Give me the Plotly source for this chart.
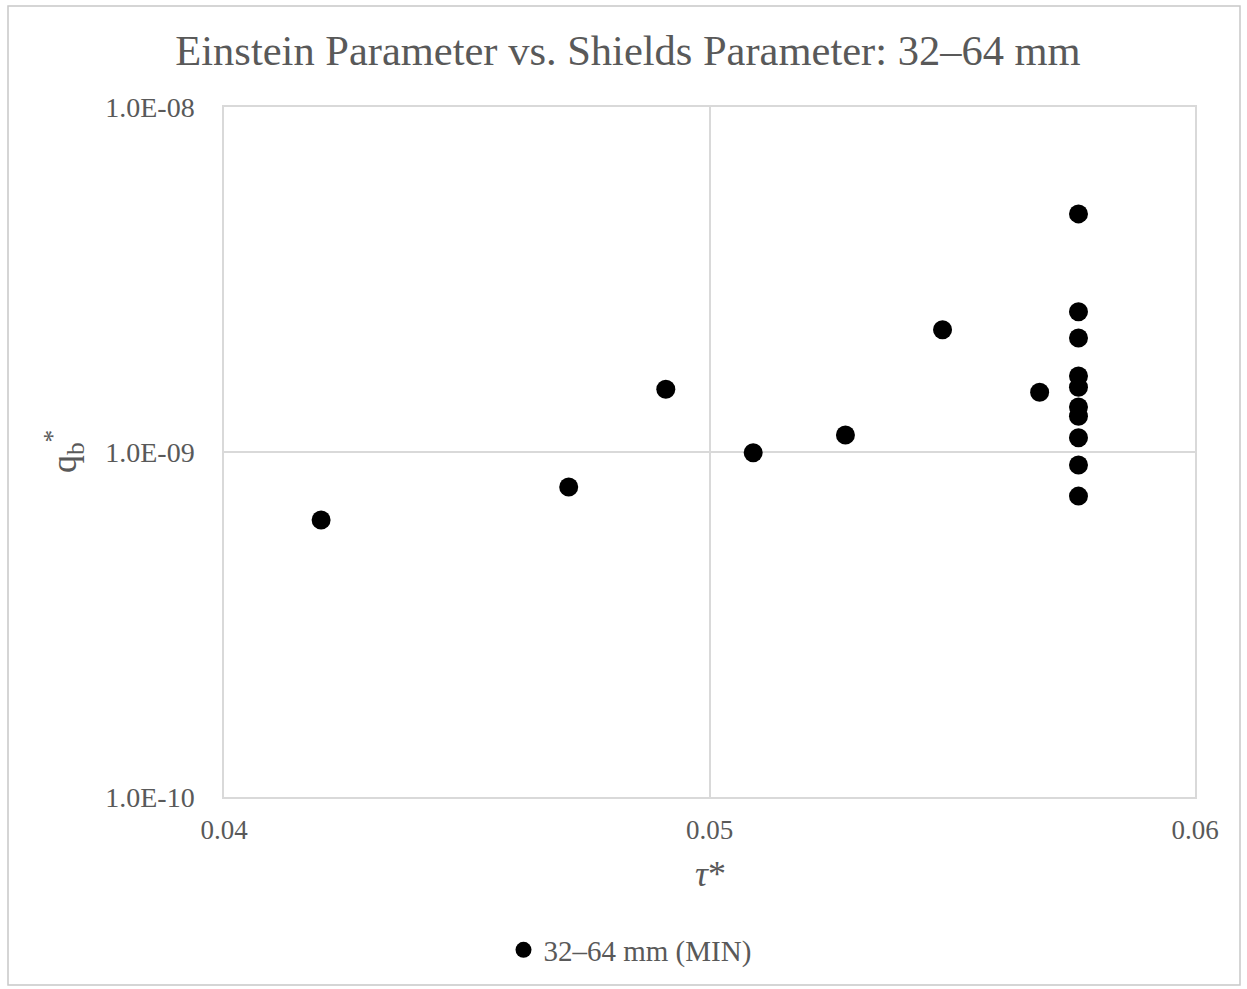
import plotly.graph_objects as go

tau = [0.0420, 0.0471, 0.0491, 0.0509, 0.0528, 0.0548, 0.0568,
       0.0576, 0.0576, 0.0576, 0.0576, 0.0576, 0.0576, 0.0576, 0.0576, 0.0576, 0.0576]
qb = [6.35e-10, 7.92e-10, 1.52e-9, 9.95e-10, 1.12e-9, 2.26e-9, 1.49e-9,
      4.90e-9, 2.55e-9, 2.14e-9, 1.66e-9, 1.54e-9, 1.35e-9, 1.27e-9, 1.10e-9, 9.17e-10, 7.45e-10]
series_name = "32–64 mm (MIN)"
x_ticks = [0.04, 0.05, 0.06]
x_ticktext = ["0.04", "0.05", "0.06"]
y_ticks = [1e-10, 1e-9, 1e-8]
y_ticktext = ["1.0E-10", "1.0E-09", "1.0E-08"]

FONT = "Liberation Serif"
GRAY = "#595959"
GRID = "#d9d9d9"

fig = go.Figure()
fig.add_trace(go.Scatter(
    x=tau, y=qb, mode="markers", name=series_name,
    marker=dict(color="black", size=19, symbol="circle"),
))

W, H = 1247, 989
L, R, T, B = 224, 52, 107, 192
pw, ph = W - L - R, H - T - B

def px(xp):
    return (xp - L) / pw

def py(yp):
    return (H - B - yp) / ph

fig.update_layout(
    width=W, height=H,
    margin=dict(l=L, r=R, t=T, b=B),
    paper_bgcolor="white", plot_bgcolor="white",
    font=dict(family=FONT, color=GRAY),
    title=dict(text="Einstein Parameter vs. Shields Parameter: 32–64 mm",
               x=628 / W, xref="container", xanchor="center",
               y=1 - 50 / H, yref="container", yanchor="middle",
               font=dict(family=FONT, size=42.5, color=GRAY)),
    showlegend=True,
    legend=dict(orientation="h", x=px(630), xanchor="center", y=py(950), yanchor="middle",
                font=dict(family=FONT, size=29, color=GRAY), itemwidth=30,
                tracegroupgap=0),
    xaxis=dict(range=[0.04, 0.06], tickvals=x_ticks, ticktext=x_ticktext,
               showgrid=True, gridcolor=GRID, gridwidth=1.5,
               showline=True, linecolor=GRID, linewidth=1.5, mirror=True,
               zeroline=False, ticks="", ticklen=0, ticklabelstandoff=8,
               tickfont=dict(family=FONT, size=27, color=GRAY)),
    yaxis=dict(type="log", range=[-10, -8], tickvals=y_ticks, ticktext=y_ticktext,
               showgrid=True, gridcolor=GRID, gridwidth=1.5,
               showline=True, linecolor=GRID, linewidth=1.5, mirror=True,
               zeroline=False, ticks="", ticklen=0, ticklabelstandoff=22,
               tickfont=dict(family=FONT, size=28, color=GRAY)),
    shapes=[dict(type="rect", xref="paper", yref="paper",
                 x0=px(8), x1=px(1240), y0=py(985), y1=py(6),
                 line=dict(color="#c8c8c8", width=1.5), fillcolor="rgba(0,0,0,0)", layer="below")],
    annotations=[
        dict(text="<i>τ</i>*", xref="paper", yref="paper", x=px(710), y=py(874),
             xanchor="center", yanchor="middle", showarrow=False,
             font=dict(family=FONT, size=36, color=GRAY)),
        dict(text="q<sub>b</sub><sup>*</sup>", xref="paper", yref="paper", x=px(64), y=py(452),
             xanchor="center", yanchor="middle", showarrow=False, textangle=-90,
             font=dict(family=FONT, size=36, color=GRAY)),
    ],
)

fig.write_html("out.html")
